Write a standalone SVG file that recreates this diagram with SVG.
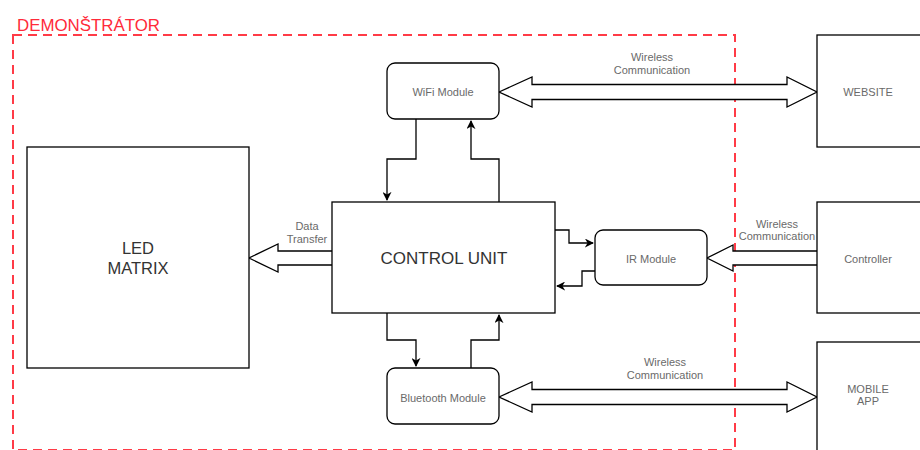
<svg xmlns="http://www.w3.org/2000/svg" width="920" height="450" viewBox="0 0 920 450">
<defs>
<style>
.box{fill:#fff;stroke:#000;stroke-width:1.3}
.lbl{font-family:"Liberation Sans",Arial,sans-serif;fill:#6a6a6a;text-anchor:middle}
.big{font-family:"Liberation Sans",Arial,sans-serif;fill:#333;text-anchor:middle}
.wire{fill:none;stroke:#000;stroke-width:1.3}
.fat{fill:#fff;stroke:#000;stroke-width:1.3;stroke-linejoin:miter}
</style>
<marker id="ah" viewBox="0 0 10 10" refX="9" refY="5" markerWidth="9" markerHeight="9" markerUnits="userSpaceOnUse" orient="auto">
<path d="M0,0 L10,5 L0,10 L3,5 Z" fill="#000"/>
</marker>
</defs>
<rect width="920" height="450" fill="#fff"/>
<g id="boundary">
<rect x="13" y="35" width="722" height="415" fill="none" stroke="#ff3b47" stroke-width="2" stroke-dasharray="9 6"/>
<text x="17" y="31" font-family="'Liberation Sans',Arial,sans-serif" font-size="16" fill="#ff2a3a" textLength="143" lengthAdjust="spacingAndGlyphs">DEMONŠTRÁTOR</text>
</g>
<g id="connectors">
<path class="wire" d="M416,119 V159 H387 V200" marker-end="url(#ah)"/>
<path class="wire" d="M499,202 V159 H471 V121" marker-end="url(#ah)"/>
<path class="wire" d="M387,313 V340 H416 V366" marker-end="url(#ah)"/>
<path class="wire" d="M471,368 V340 H499 V315" marker-end="url(#ah)"/>
<path class="wire" d="M555,230 H569 V243 H593" marker-end="url(#ah)"/>
<path class="wire" d="M595,271 H582 V286 H557" marker-end="url(#ah)"/>
<path class="fat" d="M499,92 L532,77 V84.5 H787 V77 L817,92 L787,107 V99.5 H532 V107 Z"/>
<path class="fat" d="M499,397 L532,382 V389.5 H787 V382 L817,397 L787,412 V404.5 H532 V412 Z"/>
<path class="fat" d="M817,251 H733 V245 L707,258 L733,271 V265 H817"/>
<path class="fat" d="M332,251 H278 V244 L249,258 L278,272 V265 H332"/>
<text class="lbl" font-size="11" x="652" y="61">Wireless</text>
<text class="lbl" font-size="11" x="652" y="74">Communication</text>
<text class="lbl" font-size="11" x="665" y="366">Wireless</text>
<text class="lbl" font-size="11" x="665" y="379">Communication</text>
<text class="lbl" font-size="11" x="777" y="228">Wireless</text>
<text class="lbl" font-size="11" x="777" y="240">Communication</text>
<text class="lbl" font-size="11" x="307" y="230">Data</text>
<text class="lbl" font-size="11" x="307" y="243">Transfer</text>
</g>
<g id="led">
<rect class="box" x="27" y="147" width="222" height="221"/>
<text class="big" font-size="16.5" x="138" y="254">LED</text>
<text class="big" font-size="16.5" x="138" y="274">MATRIX</text>
</g>
<g id="control">
<rect class="box" x="332" y="202" width="223" height="111"/>
<text class="big" font-size="17" x="444" y="264">CONTROL UNIT</text>
</g>
<g id="wifi">
<rect class="box" x="387" y="63" width="112" height="56" rx="8"/>
<text class="lbl" font-size="11" x="443" y="96">WiFi Module</text>
</g>
<g id="ir">
<rect class="box" x="595" y="230" width="112" height="55" rx="8"/>
<text class="lbl" font-size="11" x="651" y="263">IR Module</text>
</g>
<g id="bluetooth">
<rect class="box" x="387" y="368" width="112" height="56" rx="8"/>
<text class="lbl" font-size="11" x="443" y="402">Bluetooth Module</text>
</g>
<g id="website">
<rect class="box" x="817" y="35" width="110" height="112"/>
<text class="lbl" font-size="11" x="868" y="96">WEBSITE</text>
</g>
<g id="controller">
<rect class="box" x="817" y="202" width="110" height="111"/>
<text class="lbl" font-size="11" x="868" y="263">Controller</text>
</g>
<g id="mobile">
<rect class="box" x="817" y="342" width="110" height="120"/>
<text class="lbl" font-size="11" x="868" y="393">MOBILE</text>
<text class="lbl" font-size="11" x="868" y="405">APP</text>
</g>
</svg>
